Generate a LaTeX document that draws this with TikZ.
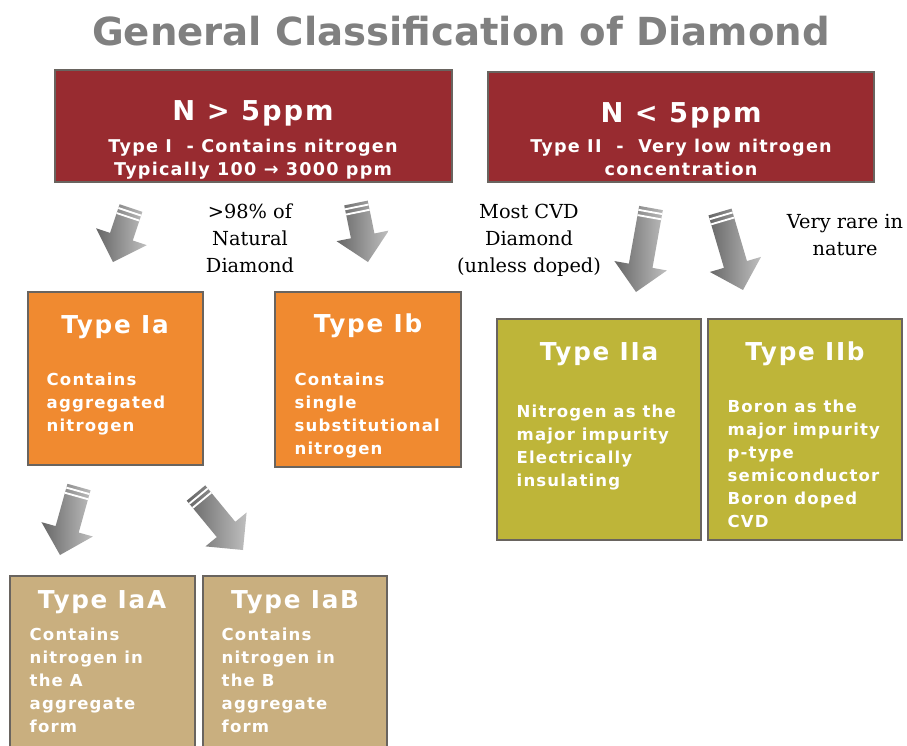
\documentclass[tikz,border=0pt]{standalone}
\usepackage{fontspec}
\setmainfont{DejaVu Sans}
\newfontfamily\boxfont{DejaVu Sans}[LetterSpace=7]
\newfontfamily\notefont{DejaVu Serif}
\usetikzlibrary{calc,positioning,fit}
\definecolor{TitleGray}{RGB}{128,128,128}
\definecolor{BoxLine}  {RGB}{105,100,95}
\definecolor{NColor}   {RGB}{152,43,48}
\definecolor{IaColor}  {RGB}{240,138,48}
\definecolor{IIColor}  {RGB}{190,181,57}
\definecolor{AggColor} {RGB}{201,175,127}

% fat shaded arrow from tail #1 to tip #2
\newcommand\fatarrow[2]{%
  \coordinate (nk) at ($(#2)!20pt!(#1)$);
  \path[fatarr] ($(#1)!9pt!90:(#2)$) -- ($(nk)!9pt!90:(#2)$)
    -- ($(nk)!20pt!90:(#2)$) -- (#2) -- ($(nk)!20pt!-90:(#2)$)
    -- ($(nk)!9pt!-90:(#2)$) -- ($(#1)!9pt!-90:(#2)$) -- cycle;
  \foreach \d in {3pt,7pt} {
    \coordinate (st) at ($(#1)!\d!(#2)$);
    \draw[white,line width=1.4pt] ($(st)!9pt!90:(#2)$) -- ($(st)!9pt!-90:(#2)$);
  }%
}

\begin{document}
\begin{tikzpicture}[x=0.75pt,y=-0.75pt,
  box/.style={draw=BoxLine,line width=1pt,inner sep=0pt},
  fatarr/.style={left color=black!60,right color=black!25},
  big/.style={anchor=base,text=white,font=\boxfont\bfseries\fontsize{20.5}{24}\selectfont},
  sub/.style={anchor=base,align=center,text=white,font=\boxfont\bfseries\fontsize{13.2}{17.25}\selectfont},
  ttl/.style={anchor=base,text=white,font=\boxfont\bfseries\fontsize{18.5}{22}\selectfont},
  txt/.style={anchor=base west,align=left,text=white,font=\boxfont\bfseries\fontsize{12.4}{17.25}\selectfont},
  note/.style={anchor=base,align=center,font=\notefont\fontsize{14.5}{20}\selectfont}]
\useasboundingbox (0,0) rectangle (907,746);

\node[anchor=base,text=TitleGray,font=\bfseries\fontsize{29}{34}\selectfont] (title) at (461,45) {General Classification of Diamond};

% top level (multi-line texts sit on the baseline of their last line)
\node[box,fill=NColor,fit={(55,70) (452,182)}] (tI) {};
\node[box,fill=NColor,fit={(488,72) (874,182)}] (tII) {};
\node[big] (tIa) at (253,120) {N > 5ppm};
\node[sub] (tIb) at (253,175) {Type I~~-~Contains nitrogen\\Typically 100 → 3000 ppm};
\node[big] (tIIa) at (681,122) {N < 5ppm};
\node[sub] (tIIb) at (681,175) {Type II~~-~~Very low nitrogen\\concentration};

% second level
\node[box,fill=IaColor,fit={(28,292) (203,465)}] (ia) {};
\node[box,fill=IaColor,fit={(275,292) (461,467)}] (ib) {};
\node[box,fill=IIColor,fit={(497,319) (701,540)}] (iia) {};
\node[box,fill=IIColor,fit={(708,319) (902,540)}] (iib) {};
\node[ttl] (iat) at (115,333) {Type Ia};
\node[txt] (iax) at (42,431) {Contains\\aggregated\\nitrogen};
\node[ttl] (ibt) at (368,332) {Type Ib};
\node[txt] (ibx) at (290,454) {Contains\\single\\substitutional\\nitrogen};
\node[ttl] (iiat) at (599,360) {Type IIa};
\node[txt] (iiax) at (512,486) {Nitrogen as the\\major impurity\\Electrically\\insulating};
\node[ttl] (iibt) at (805,360) {Type IIb};
\node[txt] (iibx) at (723,527) {Boron as the\\major impurity\\p-type\\semiconductor\\Boron doped\\CVD};

% third level
\node[box,fill=AggColor,fit={(10,576) (195,770)}] (iaa) {};
\node[box,fill=AggColor,fit={(203,576) (387,770)}] (iab) {};
\node[ttl] (iaat) at (102,608) {Type IaA};
\node[txt] (iaax) at (25,732) {Contains\\nitrogen in\\the A\\aggregate\\form};
\node[ttl] (iabt) at (295,608) {Type IaB};
\node[txt] (iabx) at (217,732) {Contains\\nitrogen in\\the B\\aggregate\\form};

% notes
\node[note] (n98) at (250,272) {>98\% of\\Natural\\Diamond};
\node[note] (ncvd) at (529,272) {Most CVD\\Diamond\\(unless doped)};
\node[note] (nrare) at (845,255) {Very rare in\\nature};

% arrows
\coordinate (a1) at (131,208); \coordinate (b1) at (113,262);
\coordinate (a2) at (356,203); \coordinate (b2) at (368,262);
\coordinate (a3) at (651,208); \coordinate (b3) at (636,292);
\coordinate (a4) at (720,212); \coordinate (b4) at (743,290);
\coordinate (a5) at (79,487);  \coordinate (b5) at (60,555);
\coordinate (a6) at (196,493); \coordinate (b6) at (243,550);
\foreach \i in {1,...,6} {\fatarrow{a\i}{b\i}}
\end{tikzpicture}
\end{document}
